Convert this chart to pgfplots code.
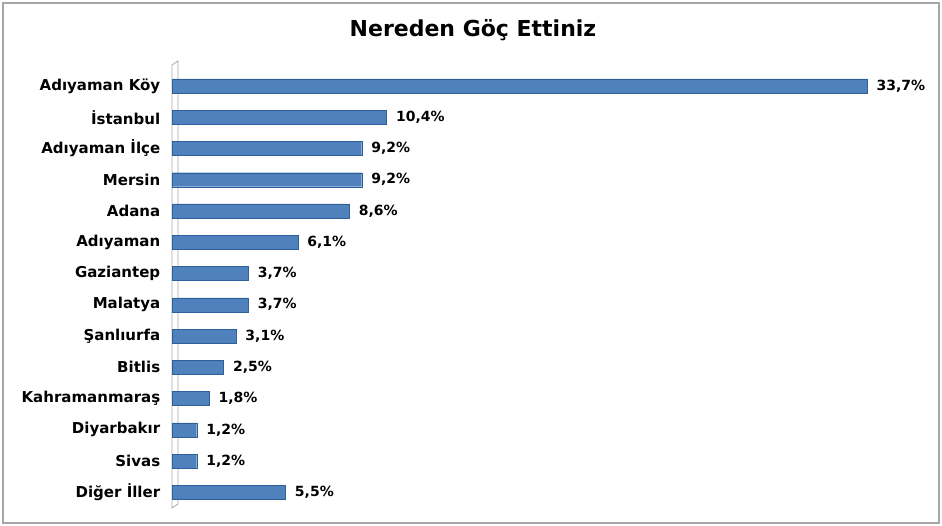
\documentclass[border=0pt]{standalone}
\usepackage{fontspec}
\setmainfont{DejaVu Sans}
\usepackage{pgfplots}
\pgfplotsset{compat=1.18}
\definecolor{barblue}{HTML}{4F81BD}
\definecolor{bardark}{HTML}{2F5F98}
\definecolor{framegray}{HTML}{A6A6A6}

\begin{document}
\begin{tikzpicture}[x=1pt,y=1pt]
\path[use as bounding box] (0,0) rectangle (942,526);
\draw[framegray,line width=1.5pt] (3,3) rectangle (939,523);
\node[font=\bfseries\fontsize{22}{26}\selectfont] at (473,496) {Nereden Göç Ettiniz};
\begin{axis}[
  at={(172pt,18pt)}, anchor=south west,
  width=728pt, height=443pt, scale only axis,
  xbar, bar width=14pt,
  xmin=0, xmax=35.3,
  ymin=-0.67, ymax=13.5, y dir=reverse,
  ytick={0,...,13},
  yticklabels={Adıyaman Köy,İstanbul,Adıyaman İlçe,Mersin,Adana,Adıyaman,Gaziantep,Malatya,Şanlıurfa,Bitlis,Kahramanmaraş,Diyarbakır,Sivas,Diğer İller},
  yticklabel style={font=\bfseries\fontsize{15}{17}\selectfont,xshift=-4pt},
  ytick style={draw=none},
  hide x axis,
  axis y line*=left,
  y axis line style={draw=none},
  /pgf/number format/assume math mode=true,
  nodes near coords={\pgfmathprintnumber[fixed,fixed zerofill,precision=1,use comma]{\pgfplotspointmeta}\%},
  nodes near coords style={font=\bfseries\fontsize{14}{16}\selectfont,anchor=west,xshift=6pt},
  point meta=x,
  clip=false,
]
\draw[gray!70,line width=0.8pt] (rel axis cs:0,1) -- (rel axis cs:0,0) -- ++(6pt,4pt) -- ([xshift=6pt,yshift=4pt]rel axis cs:0,1) -- cycle;
\addplot[draw=bardark, fill=barblue] coordinates {
(33.7,0) (10.4,1) (9.2,2) (9.2,3) (8.6,4) (6.1,5) (3.7,6) (3.7,7) (3.1,8) (2.5,9) (1.8,10) (1.2,11) (1.2,12) (5.5,13)};
\end{axis}
\end{tikzpicture}
\end{document}
